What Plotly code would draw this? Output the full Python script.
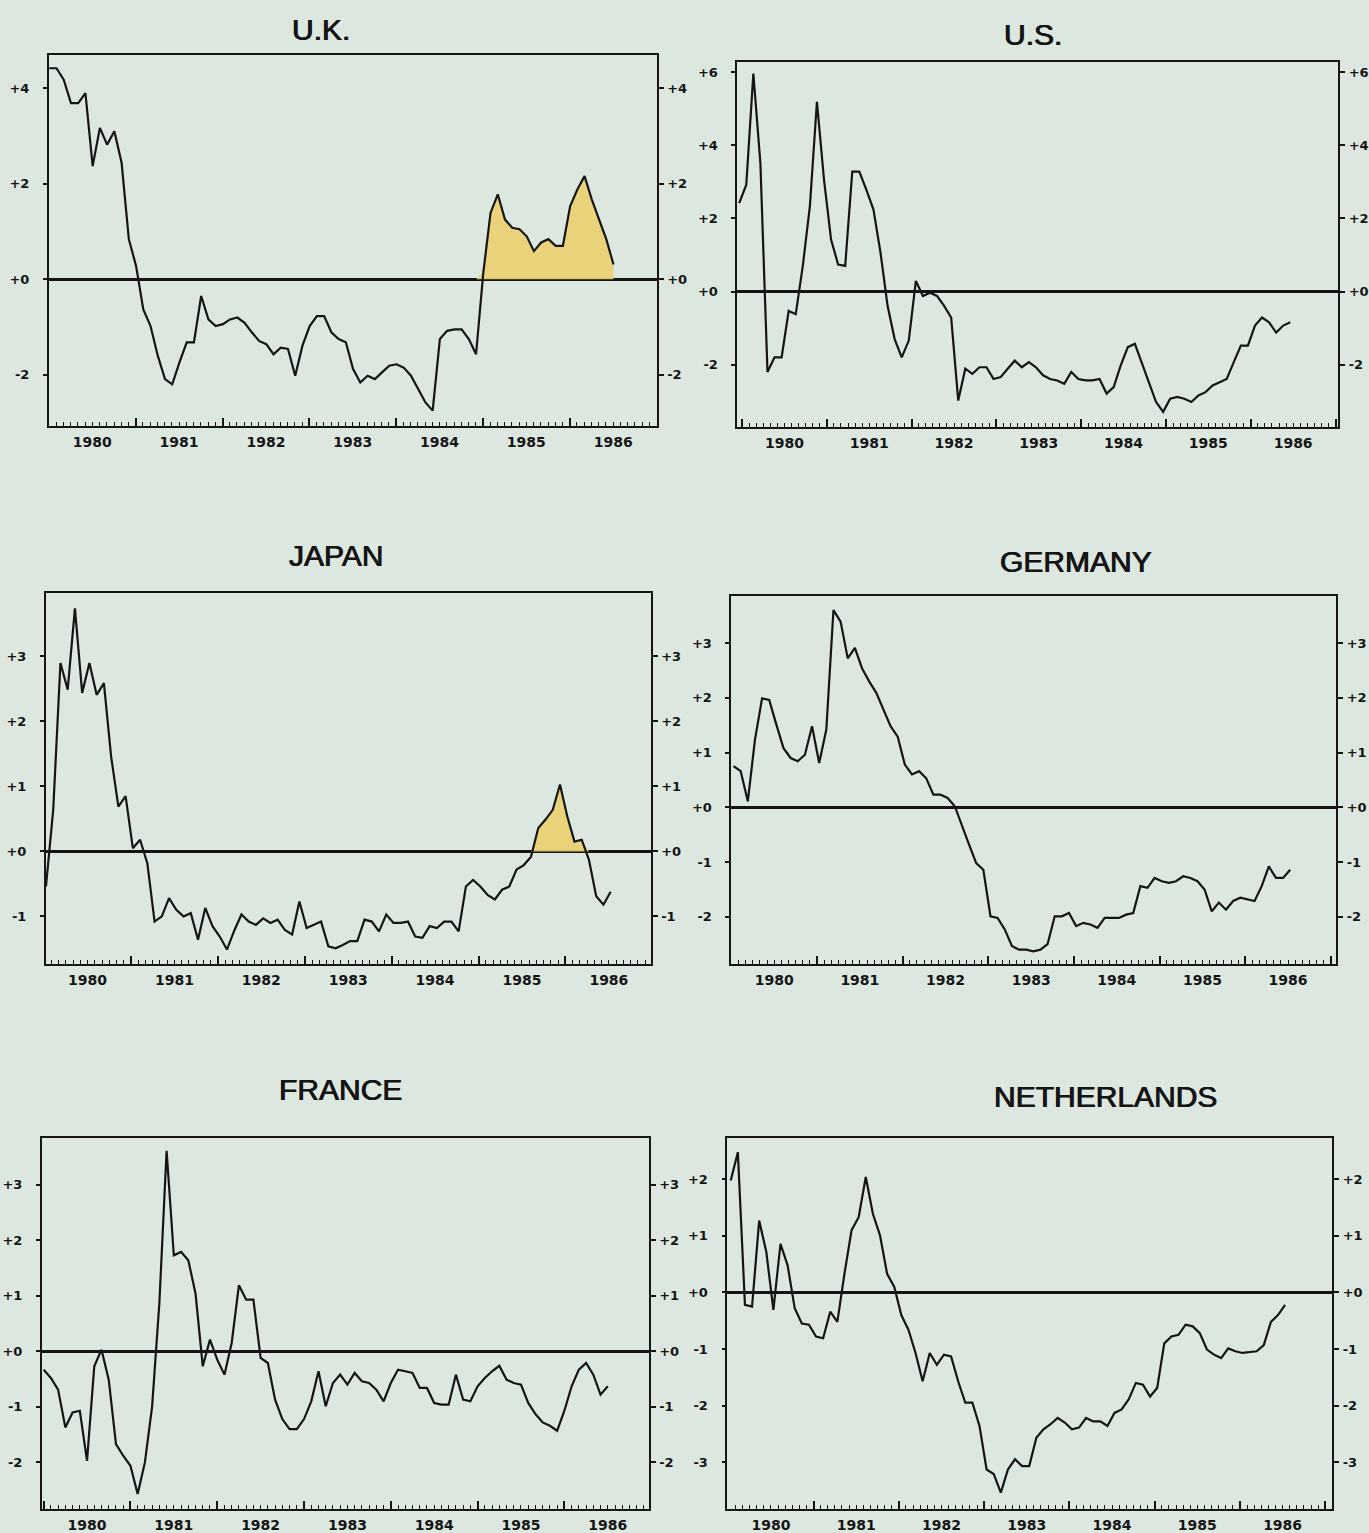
import plotly.graph_objects as go

W, H = 1369, 1533
BG = "#dce7e0"
INK = "#151515"
FILL = "rgba(233,208,112,0.92)"

YEARS = [1980, 1981, 1982, 1983, 1984, 1985, 1986]

# ---- data: monthly readings (percentage points), Jan 1980 onwards ----
uk = [4.42, 4.42, 4.18, 3.69, 3.69, 3.90, 2.37, 3.17, 2.82, 3.10, 2.44, 0.84,
      0.28, -0.63, -0.98, -1.60, -2.09, -2.20, -1.74, -1.32, -1.32, -0.35, -0.84, -0.98,
      -0.94, -0.84, -0.80, -0.91, -1.11, -1.29, -1.36, -1.57, -1.43, -1.46, -2.02, -1.39,
      -0.98, -0.77, -0.77, -1.11, -1.25, -1.32, -1.88, -2.16, -2.02, -2.09, -1.95, -1.81,
      -1.78, -1.85, -2.02, -2.30, -2.58, -2.75, -1.25, -1.08, -1.05, -1.05, -1.25, -1.57,
      0.14, 1.39, 1.78, 1.25, 1.08, 1.05, 0.90, 0.59, 0.77, 0.84, 0.70, 0.70,
      1.53, 1.88, 2.16, 1.67, 1.25, 0.84, 0.31]

us = [2.42, 2.92, 5.96, 3.50, -2.20, -1.80, -1.80, -0.53, -0.62, 0.70, 2.33, 5.19,
      3.06, 1.42, 0.74, 0.70, 3.28, 3.28, 2.78, 2.24, 1.06, -0.39, -1.30, -1.80,
      -1.34, 0.29, -0.12, -0.03, -0.12, -0.39, -0.71, -2.98, -2.11, -2.25, -2.07, -2.07,
      -2.39, -2.34, -2.11, -1.89, -2.07, -1.93, -2.07, -2.29, -2.39, -2.43, -2.52, -2.20,
      -2.39, -2.43, -2.43, -2.39, -2.79, -2.61, -2.02, -1.52, -1.43, -1.98, -2.48, -3.02,
      -3.29, -2.93, -2.88, -2.93, -3.02, -2.84, -2.75, -2.57, -2.48, -2.39, -1.93, -1.48,
      -1.48, -0.93, -0.71, -0.84, -1.12, -0.93, -0.84]

japan = [-0.54, 0.64, 2.90, 2.49, 3.74, 2.44, 2.90, 2.41, 2.59, 1.46, 0.69, 0.85,
         0.05, 0.18, -0.18, -1.08, -1.00, -0.72, -0.90, -1.00, -0.95, -1.36, -0.87, -1.15,
         -1.31, -1.51, -1.22, -0.97, -1.08, -1.13, -1.03, -1.10, -1.05, -1.21, -1.28, -0.77,
         -1.18, -1.13, -1.08, -1.46, -1.49, -1.44, -1.38, -1.38, -1.05, -1.08, -1.23, -0.97,
         -1.10, -1.10, -1.08, -1.31, -1.33, -1.15, -1.18, -1.08, -1.08, -1.23, -0.54, -0.44,
         -0.54, -0.67, -0.74, -0.59, -0.54, -0.28, -0.21, -0.08, 0.36, 0.49, 0.64, 1.03,
         0.54, 0.15, 0.18, -0.13, -0.69, -0.82, -0.62]

germany = [0.75, 0.66, 0.11, 1.23, 1.99, 1.96, 1.51, 1.08, 0.90, 0.84, 0.96, 1.48,
           0.81, 1.42, 3.60, 3.39, 2.72, 2.91, 2.54, 2.30, 2.09, 1.78, 1.48, 1.29,
           0.78, 0.60, 0.66, 0.53, 0.23, 0.23, 0.17, 0.02, -0.35, -0.68, -1.02, -1.14,
           -1.99, -2.02, -2.23, -2.53, -2.60, -2.60, -2.63, -2.60, -2.50, -1.99, -1.99, -1.93,
           -2.17, -2.11, -2.14, -2.20, -2.02, -2.02, -2.02, -1.96, -1.93, -1.44, -1.47, -1.29,
           -1.35, -1.38, -1.35, -1.26, -1.29, -1.35, -1.50, -1.90, -1.74, -1.87, -1.71, -1.65,
           -1.68, -1.71, -1.44, -1.08, -1.29, -1.29, -1.14]

france = [-0.33, -0.48, -0.69, -1.37, -1.10, -1.07, -1.97, -0.27, 0.03, -0.51, -1.67, -1.88,
          -2.06, -2.57, -2.00, -0.99, 0.87, 3.61, 1.73, 1.79, 1.64, 1.04, -0.27, 0.21,
          -0.15, -0.42, 0.15, 1.19, 0.93, 0.93, -0.12, -0.21, -0.87, -1.22, -1.40, -1.40,
          -1.22, -0.90, -0.36, -0.99, -0.57, -0.42, -0.60, -0.39, -0.54, -0.57, -0.69, -0.90,
          -0.57, -0.33, -0.36, -0.39, -0.66, -0.66, -0.93, -0.96, -0.96, -0.42, -0.87, -0.90,
          -0.63, -0.48, -0.36, -0.26, -0.51, -0.57, -0.60, -0.93, -1.13, -1.28, -1.34, -1.43,
          -1.07, -0.63, -0.33, -0.21, -0.42, -0.78, -0.63]

netherlands = [1.98, 2.48, -0.22, -0.25, 1.27, 0.72, -0.31, 0.86, 0.48, -0.28, -0.55, -0.57,
               -0.78, -0.81, -0.34, -0.52, 0.33, 1.10, 1.33, 2.04, 1.39, 1.01, 0.33, 0.10,
               -0.40, -0.66, -1.07, -1.57, -1.07, -1.28, -1.10, -1.13, -1.57, -1.95, -1.95, -2.36,
               -3.13, -3.21, -3.54, -3.13, -2.95, -3.07, -3.07, -2.57, -2.42, -2.33, -2.22, -2.30,
               -2.42, -2.39, -2.22, -2.28, -2.28, -2.36, -2.13, -2.07, -1.89, -1.60, -1.63, -1.84,
               -1.69, -0.90, -0.78, -0.75, -0.57, -0.60, -0.72, -1.01, -1.10, -1.16, -0.99, -1.04,
               -1.07, -1.06, -1.04, -0.93, -0.52, -0.40, -0.22]

titles = ["U.K.", "U.S.", "JAPAN", "GERMANY", "FRANCE", "NETHERLANDS"]
series = [uk, us, japan, germany, france, netherlands]
ytick_vals = [[-2, 0, 2, 4], [-2, 0, 2, 4, 6], [-1, 0, 1, 2, 3],
              [-2, -1, 0, 1, 2, 3], [-2, -1, 0, 1, 2, 3], [-3, -2, -1, 0, 1, 2]]
# start of the shaded (positive) stretch, as a month index; None = no shading
shade_from = [59, None, 66, None, None, None]

# ---- layout geometry (pixels) ----
frames = [(49, 658, 55, 427), (739, 1341, 62, 428), (46, 652, 595, 967),
          (733, 1339, 598, 967), (42, 650, 1141, 1513), (729, 1335, 1141, 1513)]
xranges = [(1980.0, 1987.0), (1979.945, 1987.03), (1980.02, 1986.98),
           (1980.0, 1987.06), (1979.98, 1986.97), (1979.99, 1987.08)]
yranges = [(-3.07, 4.70), (-3.70, 6.28), (-1.74, 3.97),
           (-2.87, 3.85), (-2.84, 3.84), (-3.83, 2.73)]
month_offset = [0.05, -0.4, 0.25, 0.3, 0.0, 0.35]
title_pos = [(322, 30), (1035, 35), (337, 557), (1078, 563), (341, 1092), (1108, 1099)]

tick_font = dict(family="DejaVu Sans", size=13, color=INK, weight="bold")
year_font = dict(family="DejaVu Sans", size=14, color=INK, weight="bold")
title_font = dict(family="Liberation Sans", size=30, color=INK,
                  shadow="0.5px 0px 0px #151515, -0.4px 0px 0px #151515")


def signed(v):
    return ("+%d" % v) if v >= 0 else ("%d" % v)


fig = go.Figure()
layout = {}
for k in range(6):
    n = k + 1
    m = k + 7
    xs = lambda i: "" if i == 1 else str(i)
    xa, ya, xo, yo = "x" + xs(n), "y" + xs(n), "x" + str(m), "y" + str(m)
    vals = series[k]
    xv = [1980 + (i + month_offset[k]) / 12.0 for i in range(len(vals))]

    if shade_from[k] is not None:
        s = shade_from[k]
        fig.add_trace(go.Scatter(x=xv[s:], y=[max(v, 0) for v in vals[s:]],
                                 mode="lines", line=dict(width=0), fill="tozeroy",
                                 fillcolor=FILL, xaxis=xa, yaxis=ya,
                                 hoverinfo="skip", showlegend=False))
    fig.add_trace(go.Scatter(x=xv, y=vals, mode="lines",
                             line=dict(color=INK, width=2.2),
                             xaxis=xa, yaxis=ya, showlegend=False))
    # invisible traces to activate the overlay axes (year labels, right-hand scale)
    fig.add_trace(go.Scatter(x=xv, y=vals, mode="lines", line=dict(width=0), opacity=0,
                             xaxis=xo, yaxis=ya, hoverinfo="skip", showlegend=False))
    fig.add_trace(go.Scatter(x=xv, y=vals, mode="lines", line=dict(width=0), opacity=0,
                             xaxis=xa, yaxis=yo, hoverinfo="skip", showlegend=False))

    x0, x1, y0, y1 = frames[k]
    xdom = [x0 / W, x1 / W]
    ydom = [1 - y1 / H, 1 - y0 / H]
    yt = ytick_vals[k]
    ytt = [signed(v) for v in yt]

    layout["xaxis" + xs(n)] = dict(
        domain=xdom, range=list(xranges[k]), anchor=ya,
        showline=True, linecolor=INK, linewidth=2.2, mirror=True,
        tickmode="array", tickvals=YEARS + [1987], ticks="inside", ticklen=8,
        tickwidth=1.6, tickcolor=INK, showticklabels=False,
        showgrid=False, zeroline=False,
        minor=dict(tickmode="linear", tick0=1980, dtick=1 / 12, ticks="inside",
                   ticklen=4, tickwidth=1.2, tickcolor=INK, showgrid=False))
    layout["xaxis" + str(m)] = dict(
        overlaying=xa, anchor=ya, side="bottom", range=list(xranges[k]),
        tickmode="array", tickvals=[y + 0.5 for y in YEARS],
        ticktext=[str(y) for y in YEARS], ticks="outside", ticklen=0,
        ticklabelstandoff=3, tickfont=year_font,
        showline=False, showgrid=False, zeroline=False)
    layout["yaxis" + xs(n)] = dict(
        domain=ydom, range=list(yranges[k]), anchor=xa,
        showline=True, linecolor=INK, linewidth=1.8, mirror=True,
        tickmode="array", tickvals=yt, ticktext=ytt, ticks="outside", ticklen=4,
        tickwidth=1.5, tickcolor=INK, tickfont=tick_font, ticklabelstandoff=11,
        showgrid=False, zeroline=True, zerolinecolor=INK, zerolinewidth=2.8)
    layout["yaxis" + str(m)] = dict(
        overlaying=ya, anchor=xa, side="right", range=list(yranges[k]),
        tickmode="array", tickvals=yt, ticktext=ytt, ticks="outside", ticklen=6,
        tickwidth=1.5, tickcolor=INK, tickfont=tick_font, ticklabelstandoff=1,
        showline=False, showgrid=False, zeroline=False)

annotations = []
for k, t in enumerate(titles):
    px, py = title_pos[k]
    annotations.append(dict(text=t, x=px / W, y=1 - py / H, xref="paper", yref="paper",
                            xanchor="center", yanchor="middle", showarrow=False,
                            font=title_font))

fig.update_layout(width=W, height=H, autosize=False,
                  margin=dict(l=0, r=0, t=0, b=0, pad=0),
                  paper_bgcolor=BG, plot_bgcolor=BG,
                  showlegend=False, annotations=annotations, **layout)

fig.write_html("out.html", config={"displayModeBar": False},
               post_script="document.body.style.margin='0';document.body.style.overflow='hidden';")
